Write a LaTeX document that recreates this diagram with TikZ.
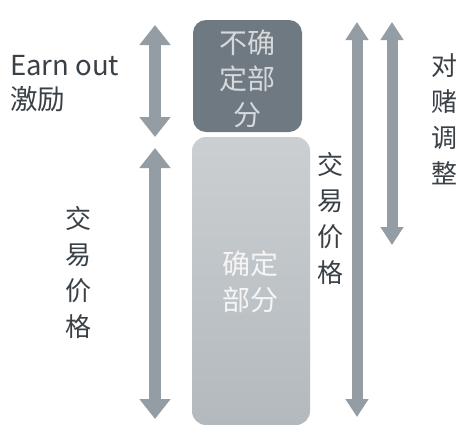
\documentclass[tikz,border=0pt]{standalone}
\usepackage{fontspec}
\setmainfont{Noto Sans CJK SC}
\usetikzlibrary{arrows.meta}
\definecolor{arrowgray}{HTML}{959DA4}
\definecolor{darkbox}{HTML}{6F7981}
\definecolor{lighttop}{HTML}{CBCFD2}
\definecolor{lightbot}{HTML}{B3B9BE}
\definecolor{labelgray}{HTML}{394046}
\definecolor{boxtext}{HTML}{D5D9DC}
\tikzset{
  bigarrow/.style={draw=arrowgray, line width=12pt,
    {Triangle[width=30pt,length=20pt]}-{Triangle[width=30pt,length=20pt]}},
  thinarrow/.style={draw=arrowgray, line width=11pt,
    {Triangle[width=22pt,length=18pt]}-{Triangle[width=22pt,length=18pt]}},
  lbl/.style={text=labelgray, font=\fontsize{26}{36}\selectfont, align=center, inner sep=0pt},
  boxlbl/.style={font=\fontsize{28}{36}\selectfont, align=center, inner sep=0pt}
}
\begin{document}
\begin{tikzpicture}[x=1pt,y=-1pt]
\useasboundingbox (0,0) rectangle (464,424);
\fill[white] (0,0) rectangle (464,424);
% boxes
\node[draw=none, fill=darkbox, rounded corners=13pt, minimum width=109pt, minimum height=112pt, inner sep=0pt] (unc) at (247.5,76) {};
\node[boxlbl, text=boxtext] (unctext) at (247.5,79) {不确\\定部\\分};
\shade[top color=lighttop, bottom color=lightbot, rounded corners=14pt] (192,137) rectangle (310,425);
\node[draw=none, minimum width=118pt, minimum height=288pt, inner sep=0pt] (cert) at (251,281) {};
\node[boxlbl, text=white!92!gray] (certtext) at (250,282) {确定\\部分};
% arrow endpoints
\coordinate (a1t) at (155,25);
\coordinate (a1b) at (155,137);
\coordinate (a2t) at (155,148);
\coordinate (a2b) at (155,419);
\coordinate (a3t) at (357,22);
\coordinate (a3b) at (357,417);
\coordinate (a4t) at (392,22);
\coordinate (a4b) at (392,245);
\draw[bigarrow] (a1t) -- (a1b);
\draw[bigarrow] (a2t) -- (a2b);
\draw[thinarrow] (a3t) -- (a3b);
\draw[thinarrow] (a4t) -- (a4b);
% labels
\node[lbl, anchor=west, align=left, font=\fontsize{27.5}{34}\selectfont] (earn) at (10,84) {Earn out\\激励};
\node[lbl] (price1) at (78,273) {交\\易\\价\\格};
\node[lbl] (price2) at (330,219) {交\\易\\价\\格};
\node[lbl] (bet) at (444,119) {对\\赌\\调\\整};
\end{tikzpicture}
\end{document}
